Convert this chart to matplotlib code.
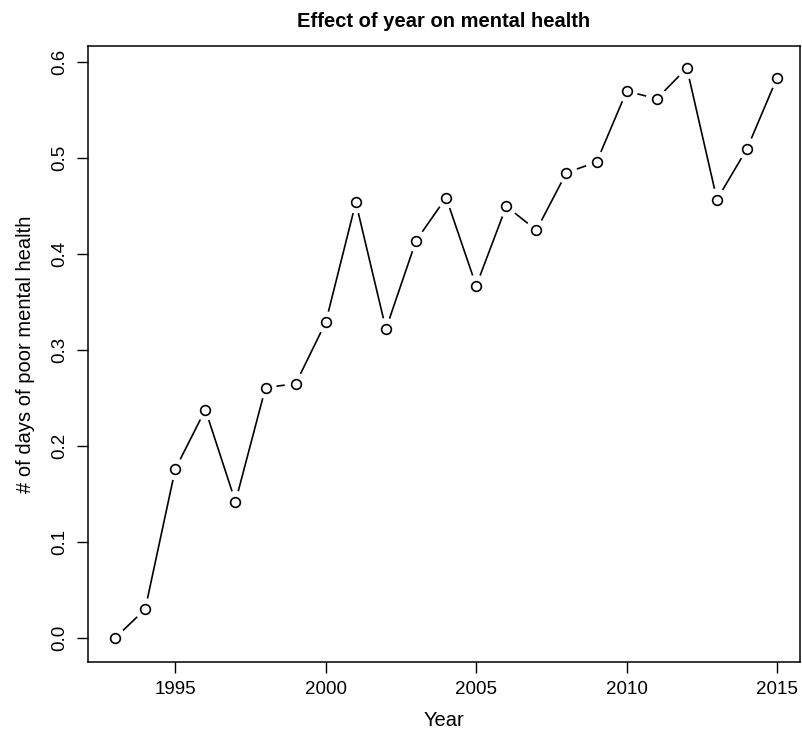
import numpy as np
import matplotlib
matplotlib.use("Agg")
import matplotlib.pyplot as plt

plt.rcParams["font.family"] = ["Liberation Sans", "DejaVu Sans"]

# data
years = [1993, 1994, 1995, 1996, 1997, 1998, 1999, 2000, 2001, 2002, 2003, 2004,
         2005, 2006, 2007, 2008, 2009, 2010, 2011, 2012, 2013, 2014, 2015]
days = [0.000, 0.030, 0.176, 0.238, 0.142, 0.261, 0.265, 0.329, 0.454, 0.322, 0.414, 0.459,
        0.367, 0.450, 0.425, 0.485, 0.496, 0.570, 0.562, 0.594, 0.457, 0.510, 0.584]
xticks = [1995, 2000, 2005, 2010, 2015]
yticks = [0.0, 0.1, 0.2, 0.3, 0.4, 0.5, 0.6]

fig = plt.figure(figsize=(8.03, 7.31), dpi=100)
ax = fig.add_axes([88 / 803, 69 / 731, 712 / 803, 616 / 731])

ax.set_xlim(1992.1, 2015.76)
ax.set_ylim(-0.025, 0.617)

# R type="b": line segments with gaps around the points
fig.canvas.draw()
pts = ax.transData.transform(np.column_stack([years, days]))
gap = 11.0
inv = ax.transData.inverted()
for p0, p1 in zip(pts[:-1], pts[1:]):
    d = p1 - p0
    L = np.hypot(*d)
    if L <= 2 * gap:
        continue
    u = d / L
    a = inv.transform(p0 + u * gap)
    b = inv.transform(p1 - u * gap)
    ax.plot([a[0], b[0]], [a[1], b[1]], color="black", lw=1.2, solid_capstyle="butt")

ax.plot(years, days, linestyle="none", marker="o", markersize=7,
        markerfacecolor="white", markeredgecolor="black", markeredgewidth=1.2)

ax.set_xticks(xticks)
ax.set_yticks(yticks)
ax.set_yticklabels([f"{v:.1f}" for v in yticks], rotation=90, va="center")
ax.tick_params(direction="out", length=8, width=1, labelsize=13.5, pad=6)
for s in ax.spines.values():
    s.set_linewidth(1.1)

ax.set_xlabel("Year", fontsize=14.5, labelpad=9)
ax.set_ylabel("# of days of poor mental health", fontsize=14.5, labelpad=12)
ax.set_title("Effect of year on mental health", fontsize=14.5, fontweight="bold", pad=14)

fig.savefig("out.png", dpi=100)
